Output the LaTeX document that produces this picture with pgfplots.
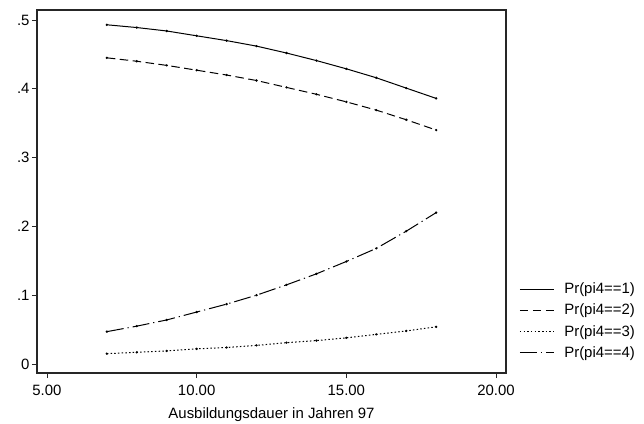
\documentclass[border=0pt]{standalone}
\usepackage{pgfplots}
\pgfplotsset{compat=1.18}
\usepackage{fontspec}
\setmainfont{Liberation Sans}
\begin{document}
\begin{tikzpicture}
\useasboundingbox (-37bp,-51bp) rectangle (607bp,373bp);
\begin{axis}[
  at={(0,0)}, anchor=south west,
  scale only axis, width=469bp, height=363bp,
  xmin=4.667, xmax=20.333, ymin=-0.0131, ymax=0.5145,
  xtick={5,10,15,20}, xticklabels={5.00,10.00,15.00,20.00},
  ytick={0,0.1,0.2,0.3,0.4,0.5}, yticklabels={0,.1,.2,.3,.4,.5},
  tick align=outside, major tick length=5bp,
  xtick pos=bottom, ytick pos=left,
  tick style={black!85, line width=0.8bp},
  axis line style={line width=1bp, black!85},
  ticklabel style={font=\fontsize{15}{17}\selectfont},
  yticklabel style={xshift=1bp},
  xticklabel style={yshift=-4bp},
  xlabel={Ausbildungsdauer in Jahren 97},
  xlabel style={font=\fontsize{15}{17}\selectfont, yshift=-5bp},
  /pgf/number format/assume math mode=true,
  legend cell align=left,
  legend style={draw=none, fill=none, at={(1.028,0.254)}, anchor=north west,
    font=\fontsize{15}{17}\selectfont, row sep=4.8bp, column sep=8bp, inner sep=0pt},
  legend image code/.code={\draw[#1] (0bp,0bp) -- (34bp,0bp);},
  every axis plot/.append style={line width=1bp, black, mark=*, mark size=0.6bp, mark options={solid}},
]
\addplot[solid] coordinates {(7,0.493)(8,0.489)(9,0.484)(10,0.477)(11,0.470)(12,0.462)(13,0.452)(14,0.441)(15,0.429)(16,0.416)(17,0.401)(18,0.386)};
\addlegendentry{Pr(pi4==1)}
\addplot[dash pattern=on 8.5bp off 4.5bp] coordinates {(7,0.445)(8,0.440)(9,0.434)(10,0.427)(11,0.420)(12,0.412)(13,0.402)(14,0.392)(15,0.381)(16,0.369)(17,0.355)(18,0.340)};
\addlegendentry{Pr(pi4==2)}
\addplot[dash pattern=on 1.5bp off 2.2bp] coordinates {(7,0.015)(8,0.017)(9,0.019)(10,0.022)(11,0.024)(12,0.027)(13,0.031)(14,0.034)(15,0.038)(16,0.043)(17,0.048)(18,0.054)};
\addlegendentry{Pr(pi4==3)}
\addplot[dash pattern=on 17bp off 4bp on 1.2bp off 4bp] coordinates {(7,0.047)(8,0.055)(9,0.064)(10,0.0755)(11,0.087)(12,0.100)(13,0.115)(14,0.131)(15,0.149)(16,0.168)(17,0.193)(18,0.220)};
\addlegendentry{Pr(pi4==4)}
\end{axis}
\draw[line width=1.2bp, black!85] (0bp,0bp) rectangle (469bp,363bp);
\end{tikzpicture}
\end{document}
